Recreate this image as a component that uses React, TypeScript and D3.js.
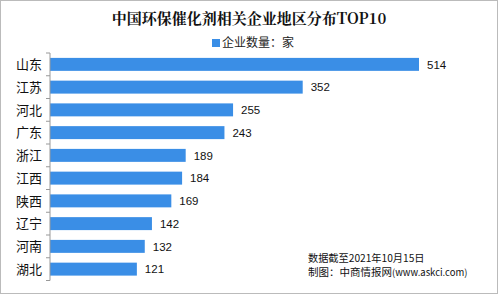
import React from "react";
import * as d3 from "d3";

const categories = ["山东", "江苏", "河北", "广东", "浙江", "江西", "陕西", "辽宁", "河南", "湖北"];
const values = [514, 352, 255, 243, 189, 184, 169, 142, 132, 121];
const titleText = "中国环保催化剂相关企业地区分布TOP10";
const legendText = "企业数量：家";
const note1 = "数据截至2021年10月15日";
const note2a = "制图：中商情报网";
const note2b = "(www.askci.com)";

const W = 498, H = 294;
const left = 50, top = 53, bottom = 280.5;
const font = "'Noto Sans CJK SC', 'Noto Sans', sans-serif";

export default function App() {
  const x = d3.scaleLinear().domain([0, 514]).range([left, 419]);
  const y = d3.scaleBand<string>().domain(categories).range([top, bottom]).paddingInner(0.43).paddingOuter(0.215);
  const step = y.step();
  const tickYs = d3.range(categories.length + 1).map(i => top + i * step);
  return (
    <svg width={W} height={H} style={{ position: "absolute", left: 0, top: 0 }} fontFamily={font}>
      <rect x={0.5} y={0.5} width={W - 1} height={H - 1} fill="#fff" stroke="#bbb" />
      <text x={249} y={24} textAnchor="middle" fontSize={15} fontWeight="bold" fill="#111" fontFamily="'Noto Serif CJK SC', 'Noto Sans CJK SC', serif">{titleText}</text>
      <rect x={212} y={39} width={8} height={8} fill="#3a8ee6" />
      <text x={222} y={47} fontSize={12} fill="#222">{legendText}</text>
      {categories.map((c, i) => (
        <g key={c}>
          <rect x={left} y={y(c)!} width={x(values[i]) - left} height={y.bandwidth()} fill="#3a8ee6" />
          <text x={42} y={y(c)! + y.bandwidth() / 2} dy="0.36em" textAnchor="end" fontSize={13} fill="#111">{c}</text>
          <text x={x(values[i]) + 8} y={y(c)! + y.bandwidth() / 2} dy="0.36em" fontSize={11.5} fill="#111" fontFamily="'Liberation Sans', Arial, sans-serif">{values[i]}</text>
        </g>
      ))}
      <line x1={left} x2={left} y1={top} y2={bottom} stroke="#999" />
      {tickYs.map((ty, i) => (
        <line key={i} x1={left - 4} x2={left} y1={ty} y2={ty} stroke="#999" />
      ))}
      <text x={308} y={262} fontSize={10.2} fill="#111">{note1}</text>
      <text x={308} y={276} fontSize={10.5} fill="#111">{note2a}<tspan fontSize={9.5}>{note2b}</tspan></text>
    </svg>
  );
}
